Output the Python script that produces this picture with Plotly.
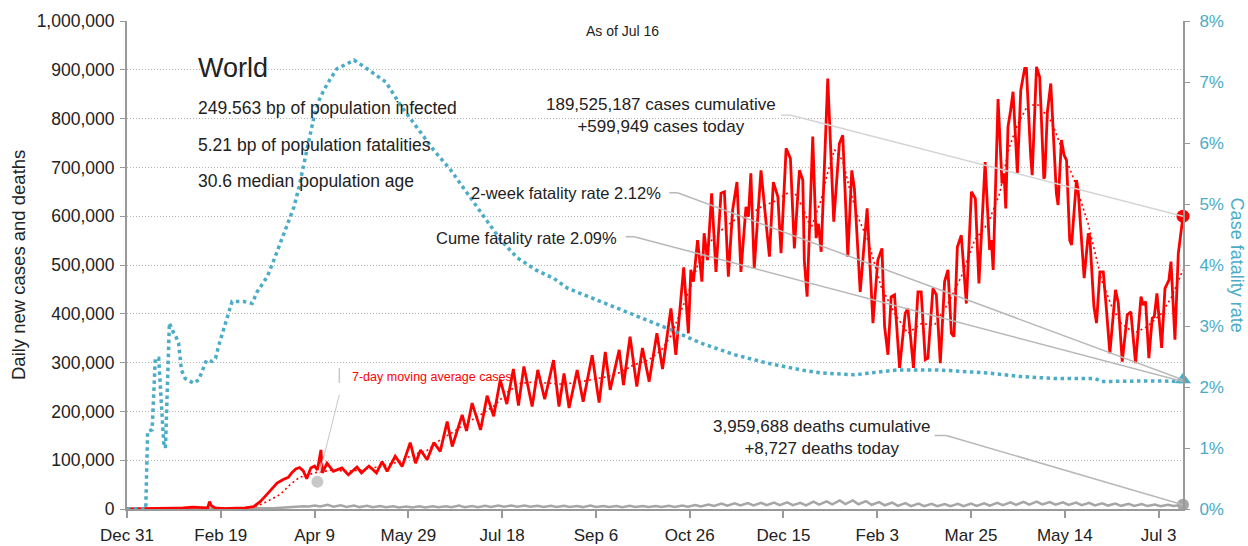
import pandas as pd
import plotly.graph_objects as go

START = pd.Timestamp("2019-12-31")
END = pd.Timestamp("2021-07-16")

# ---- daily new cases (day offset from Dec 31 2019, cases) ----
case_day = [0, 20, 25, 30, 35, 40, 43, 44, 45, 47, 52, 58, 63, 67.5, 71, 74.6, 78, 80, 83, 86, 88, 90, 92, 94, 95.8,
            98, 100, 101.5, 103.4, 104.2, 106.6, 110, 114.6, 118, 122.6, 125, 129, 133, 136, 138.7, 143, 146.7,
            151, 153.8, 156.5, 160, 163.6, 167, 170.7, 173.4, 178.7, 181, 184, 188.5, 192, 195.5, 199, 202.5,
            206, 208.7, 211.6, 216, 219, 222.7, 227.4, 230.3, 233, 235.7, 240, 243.2, 248, 251.7, 255, 257.6,
            262.4, 264.7, 268.2, 271.8, 274.8, 276.5, 278.4, 282.5, 285.5, 290, 292.6, 296.8, 299.3, 300.6,
            302, 304.2, 306.5, 307.7, 309.5, 311.7, 314, 316.7, 318.5, 320.6, 322.9, 325.2, 327.3, 330, 331.3,
            332.6, 334.4, 338, 342.5, 344.6, 347, 348.7, 351.4, 353.7, 355.8, 358.5, 360.3, 361.1, 362.6, 365.6,
            367.4, 368.6, 370.1, 373.6, 376.8, 379.8, 381.6, 384.3, 386.4, 387.8, 390.9, 394.6, 397.7, 400.3,
            402.5, 403.9, 405.7, 407.4, 409.2, 411.9, 414.9, 416.3, 419.3, 421.7, 423.4, 425.6, 427.0, 429.7,
            431.5, 433.6, 435.9, 437.7, 439.5, 440.9, 442.7, 444.8, 447.5, 450.2, 452.3, 454.2, 457.5, 459.9,
            460.8, 461.8, 464.4, 466.5, 467.6, 468.5, 469.7, 471.1, 472.4, 474.7, 476.5, 478.6, 479.5, 481.8,
            482.6, 484.9, 486.6, 488.8, 489.3, 490.7, 492.5, 495.5, 496.4, 498.2, 499.6, 500.9, 502.6, 503.6,
            506.2, 507.1, 510.3, 512.5, 513.3, 515.5, 516.9, 518.7, 520.5, 522.2, 524.0, 527.0, 528.5, 530.6,
            533.3, 535.2, 537.7, 540.6, 541.8, 543.1, 544.8, 546.6, 547.7, 549.1, 551.6, 553.4, 555.5, 556.6,
            558.7, 560.5, 563]
case_k = [0.03, 0.2, 1.5, 2.1, 3.7, 2.9, 2.0, 15.1, 6.5, 2.0, 0.5, 1.5, 2.5, 5, 15, 30, 45, 53, 60, 65, 75, 82, 85, 78, 62,
          84, 88, 80, 121, 74, 94, 77, 84, 70, 86, 74, 88, 74, 97, 77, 108, 87,
          136, 94, 121, 101, 136, 118, 179, 128, 193, 160, 217, 162, 232, 190, 265, 215,
          287, 212, 292, 210, 285, 225, 305, 210, 278, 207, 285, 220, 315, 218, 322, 244,
          326, 254, 353, 251, 330, 300, 261, 360, 287, 411, 316, 495, 360, 490,
          466, 551, 466, 565, 510, 647, 486, 647, 650, 476, 613, 670, 486, 619, 599,
          688, 493, 694, 517, 670, 640, 524, 739, 718, 534, 694, 674, 510, 435, 763,
          555, 585, 527, 882, 589, 749, 766, 517, 694, 657, 445, 616, 381, 510,
          534, 374, 316, 435, 439, 289, 401, 411, 289, 445, 445, 306, 309, 452,
          439, 299, 466, 490, 360, 353, 537, 561, 421, 650, 636, 462, 711, 531,
          551, 490, 840, 667, 688, 616, 783, 817, 855, 688, 858, 903, 903, 722,
          684, 906, 885, 677, 681, 814, 872, 647, 623, 756, 725, 715, 551, 541,
          674, 653, 473, 565, 558, 415, 381, 486, 486, 408, 319, 449, 422, 302,
          398, 404, 299, 435, 418, 425, 309, 391, 394, 442, 330, 452, 469, 507,
          347, 524, 599.949]

# ---- 7-day moving average of cases ----
ma_day = [55, 65, 70, 75, 81.7, 87, 92, 101, 110, 117, 125, 135, 145, 153, 160, 167, 174, 181, 188, 196, 203, 210,
          217, 224, 231, 238, 245, 256, 263, 270, 278, 285, 290, 295, 300, 304, 308, 313, 318, 324, 331, 338, 345,
          352, 356, 360, 364.7, 370, 373.6, 377.2, 381.6, 385, 389.6, 395, 402, 409.2, 416.3, 423.5, 430.5, 437.7,
          444.8, 451.9, 459, 465.3, 470, 475, 480.4, 485.8, 493, 498, 505, 512.4, 519.6, 525, 530, 537, 544,
          551.6, 557, 563]
ma_k = [1.5, 3, 7, 16, 30, 50, 65, 75, 80, 77, 80, 87, 97, 112, 120, 142, 158, 176, 192, 212, 240, 258,
        260, 258, 256, 258, 263, 271, 280, 295, 305, 326, 355, 401, 450, 497, 530, 558, 575, 592, 600, 619, 630,
        647, 648, 620, 575, 633, 690, 736, 714, 660, 599, 551, 456, 401, 360, 380, 377, 421,
        476, 551, 585, 647, 737, 790, 828, 828, 793, 742, 674, 585, 469, 415, 381, 360, 374,
        401, 435, 490]

# ---- case fatality rate (%) ----
cfr_day = [0, 10, 11, 13.4, 15.1, 16.9, 18.2, 19.6, 20.5, 22.2, 22.6, 24.5, 26, 27.5, 29, 31, 35.6, 38.3, 41, 42.4,
           45.4, 47.2, 49, 51.6, 54.3, 56, 62.3, 66.7, 69.4, 74.8, 78.3, 81.9, 85.4, 89, 91.7, 94.3, 97, 99.7,
           102.4, 105, 108.6, 112, 117.5, 121, 126.4, 131.7, 138, 145.8, 152.9, 163.6, 172.5, 181.4, 190.3,
           199.2, 208, 217.9, 227.6, 234.8, 243.7, 252.6, 266.8, 288.2, 306, 323.8, 341.6, 359.4, 370, 387.8,
           402, 411, 432, 459, 476.8, 494.6, 516, 519.6, 548, 563]
cfr_pct = [0, 0, 1.27, 1.30, 2.47, 2.47, 1.79, 1.08, 1.0, 2.42, 3.05, 2.91, 2.83, 2.72, 2.28, 2.14, 2.06, 2.12, 2.33, 2.44,
           2.42, 2.47, 2.69, 2.96, 3.21, 3.40, 3.40, 3.37, 3.56, 3.81, 4.08, 4.38, 4.66, 4.95, 5.28, 5.64, 6.05, 6.43,
           6.70, 6.87, 7.06, 7.22, 7.30, 7.36, 7.25, 7.14, 7.0, 6.62, 6.32, 5.88, 5.56, 5.17, 4.79,
           4.41, 4.12, 3.92, 3.78, 3.62, 3.51, 3.40, 3.21, 2.96, 2.72, 2.53, 2.39, 2.28, 2.23, 2.20,
           2.25, 2.28, 2.28, 2.23, 2.17, 2.14, 2.14, 2.09, 2.10, 2.09]

# ---- daily deaths ----
death_day = [0, 20, 30, 40, 44, 46, 55, 65, 72, 78, 82, 86, 90, 94, 97,
             100, 103, 107, 110, 114, 117, 121, 124, 128, 131, 135, 138, 142, 145, 149, 152, 156, 159, 163, 166,
             170, 173, 177, 180, 184, 187, 191, 194, 198, 201, 205, 208, 212, 215, 219, 222, 226, 229, 233, 236,
             240, 243, 247, 250, 254, 257, 261, 264, 268, 271, 275, 278, 282, 285, 289, 292, 296, 299, 303, 306,
             310, 313, 317, 320, 324, 327, 331, 334, 338, 341, 345, 348, 352, 355, 359, 362, 366, 369, 373, 376,
             380, 383, 387, 390, 394, 397, 401, 404, 408, 411, 415, 418, 422, 425, 429, 432, 436, 439, 443, 446,
             450, 453, 457, 460, 464, 467, 471, 474, 478, 481, 485, 488, 492, 495, 499, 502, 506, 509, 513, 516,
             520, 523, 527, 530, 534, 537, 541, 544, 548, 551, 555, 558, 563]
death_k = [0, 0.02, 0.05, 0.1, 0.25, 0.14, 0.1, 0.3, 0.7, 1.5, 2.5, 3.5, 4.8, 5.5, 5.0,
           7.3, 5.2, 8.4, 4.9, 7.6, 4.2, 6.9, 3.9, 6.5, 3.6, 5.9, 3.4, 5.6, 3.1, 5.3, 3.3, 5.5, 3.2, 5.4, 3.5,
           5.6, 3.4, 7.0, 3.5, 6.3, 3.6, 6.6, 4.0, 7.2, 4.5, 7.2, 4.6, 7.0, 4.5, 6.8, 4.3, 6.5, 4.2, 6.4, 4.0,
           6.1, 3.9, 7.3, 4.0, 6.1, 3.9, 6.0, 3.8, 6.4, 4.0, 6.2, 3.9, 6.3, 4.0, 6.6, 4.3, 7.2, 4.5, 8.0, 5.3,
           9.3, 6.2, 11.0, 6.9, 11.8, 7.5, 12.3, 7.4, 12.8, 7.8, 13.1, 8.0, 13.5, 8.0, 12.5, 7.5, 15.0, 9.0, 15.5, 9.5,
           17.5, 10.0, 17.5, 9.8, 16.0, 8.7, 14.0, 7.6, 13.0, 6.5, 12.0, 6.0, 11.0, 5.8, 10.5, 5.8, 10.2, 5.6, 10.5, 5.8,
           11.0, 6.5, 11.6, 6.8, 12.5, 8.0, 13.5, 8.5, 14.8, 9.0, 15.0, 9.5, 14.0, 9.0, 13.7, 8.5, 13.0, 8.0, 12.5, 7.3,
           11.5, 7.0, 11.0, 6.5, 10.5, 6.3, 10.0, 6.0, 9.0, 5.8, 8.8, 6.0, 8.727]

# ---- headline figures ----
cases_cumulative = 189525187
cases_today = 599949
deaths_cumulative = 3959688
deaths_today = 8727
cfr_2week = 2.12
cfr_cume = 2.09
bp_infected = "249.563"
bp_fatal = "5.21"
median_age = "30.6"

# annotation anchors (day offset, value)
ma_label_dot = (101.5, 56000)

TEAL = "#4BACC6"
RED = "#FF0000"
GREY = "#A6A6A6"
FONT = "Liberation Sans, Arial, sans-serif"


def d(days):
    if isinstance(days, (list, tuple)):
        return [START + pd.Timedelta(days=x) for x in days]
    return START + pd.Timedelta(days=days)


fig = go.Figure()
fig.add_trace(go.Scatter(x=d(death_day), y=[v * 1000 for v in death_k], mode="lines",
                         line=dict(color=GREY, width=2.5), hoverinfo="skip"))
fig.add_trace(go.Scatter(x=d(cfr_day), y=cfr_pct, yaxis="y2", mode="lines",
                         line=dict(color=TEAL, width=3.5, dash="3.5px,3.5px"), hoverinfo="skip"))
fig.add_trace(go.Scatter(x=d(case_day), y=[v * 1000 for v in case_k], mode="lines",
                         line=dict(color=RED, width=2.8), hoverinfo="skip"))
fig.add_trace(go.Scatter(x=d(ma_day), y=[v * 1000 for v in ma_k], mode="lines",
                         line=dict(color=RED, width=1.6, dash="2px,3px"), hoverinfo="skip"))

end_day = (END - START).days
# end markers
fig.add_trace(go.Scatter(x=[d(end_day)], y=[cases_today], mode="markers", cliponaxis=False,
                         marker=dict(color=RED, size=13), hoverinfo="skip"))
fig.add_trace(go.Scatter(x=[d(end_day)], y=[deaths_today], mode="markers", cliponaxis=False,
                         marker=dict(color=GREY, size=12), hoverinfo="skip"))
fig.add_trace(go.Scatter(x=[d(end_day)], y=[cfr_2week], yaxis="y2", mode="markers", cliponaxis=False,
                         marker=dict(color=TEAL, size=14, symbol="triangle-up"), hoverinfo="skip"))
fig.add_trace(go.Scatter(x=[d(ma_label_dot[0])], y=[ma_label_dot[1]], mode="markers", cliponaxis=False,
                         marker=dict(color="#C8C8C8", size=12), hoverinfo="skip"))

shapes = []


def seg(x0, y0, x1, y1, color, width=1.5):
    shapes.append(dict(type="line", xref="x", yref="y", x0=d(x0), y0=y0, x1=d(x1), y1=y1,
                       line=dict(color=color, width=width)))


# leader lines
seg(348.7, 807000, 354, 807000, "#D4D4D4")
seg(354, 807000, end_day, cases_today, "#D4D4D4")
seg(289.1, 648000, 293.5, 648000, "#B8B8B8")
seg(293.5, 648000, end_day, cfr_2week / 8 * 1e6, "#B8B8B8")
seg(265.9, 558000, 270.4, 558000, "#B8B8B8")
seg(270.4, 558000, end_day, cfr_cume / 8 * 1e6, "#B8B8B8")
seg(430.6, 150600, 436.8, 150600, "#B8B8B8")
seg(436.8, 150600, end_day, deaths_today, "#B8B8B8")
seg(113.2, 288600, 113.2, 258500, "#C8C8C8", width=1.5)
seg(113.2, 234000, 102.6, 72000, "#C8C8C8", width=1)

ann = []


def text(x, y, s, size, color="#222", xanchor="left", yanchor="middle", align="left"):
    ann.append(dict(x=d(x), y=y, xref="x", yref="y", text=s, showarrow=False, xanchor=xanchor,
                    yanchor=yanchor, align=align, font=dict(size=size, color=color, family=FONT)))


text(36.8, 903000, "World", 27)
text(36.8, 821000, f"{bp_infected} bp of population infected", 17.5)
text(36.8, 746000, f"{bp_fatal} bp of population fatalities", 17.5)
text(36.8, 672000, f"{median_age} median population age", 17.5)
text(264.3, 979000, f"As of {END:%b} {END.day}", 14, xanchor="center")
text(284.6, 806000, f"{cases_cumulative:,} cases cumulative<br>+{cases_today:,} cases today", 17,
     xanchor="center", align="center")
text(285.7, 647500, f"2-week fatality rate {cfr_2week:.2f}%", 16.5, xanchor="right")
text(262.2, 555000, f"Cume fatality rate {cfr_cume:.2f}%", 16.5, xanchor="right")
text(370.3, 147000, f"{deaths_cumulative:,} deaths cumulative<br>+{deaths_today:,} deaths today", 17,
     xanchor="center", align="center")
text(119, 270000, "7-day moving average cases", 12.5, color=RED)

ann.append(dict(x=-0.1032, y=0.5, xref="paper", yref="paper", text="Daily new cases and deaths",
                xanchor="center", yanchor="middle",
                showarrow=False, textangle=-90, font=dict(size=18.5, color="#222", family=FONT)))
ann.append(dict(x=1.0515, y=0.5, xref="paper", yref="paper", text="Case fatality rate",
                xanchor="center", yanchor="middle",
                showarrow=False, textangle=90, font=dict(size=18, color=TEAL, family=FONT)))

tick_dates = pd.date_range(START, END, freq="50D")
tick_text = [f"{t:%b} {t.day}" for t in tick_dates]

fig.update_layout(
    width=1248, height=546,
    margin=dict(l=127, r=65, t=21, b=37, autoexpand=False),
    paper_bgcolor="white", plot_bgcolor="white",
    showlegend=False, hovermode=False,
    font=dict(family=FONT, size=17.5, color="#222"),
    shapes=shapes, annotations=ann,
    xaxis=dict(type="date", range=[START, END], tickvals=list(tick_dates), ticktext=tick_text,
               ticks="outside", ticklen=7, tickwidth=1.5, tickcolor="#999", showline=True, linecolor="#999",
               linewidth=2, showgrid=False, zeroline=False, tickfont=dict(size=17), ticklabelstandoff=3,
               automargin=False),
    yaxis=dict(range=[0, 1e6], dtick=100000, tickformat=",", showgrid=True, gridcolor="#B5B5B5",
               griddash="1px,2px", gridwidth=1, showline=True, linecolor="#999", linewidth=2, ticks="outside",
               ticklen=5, tickcolor="#999", zeroline=False, tickfont=dict(size=17.5), ticklabelstandoff=2,
               automargin=False),
    yaxis2=dict(range=[0, 8], dtick=1, ticksuffix="%", overlaying="y", side="right", showgrid=False,
                showline=True, linecolor="#999", linewidth=2, ticks="outside", ticklen=5, tickcolor="#999",
                zeroline=False, tickfont=dict(size=17, color=TEAL), ticklabelstandoff=6, automargin=False),
)

fig.write_html("out.html", config={"displayModeBar": False},
               post_script="document.body.style.margin='0';")
